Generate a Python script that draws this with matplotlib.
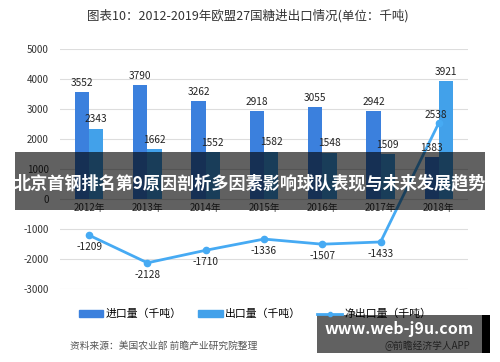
import matplotlib
matplotlib.use('Agg')
import matplotlib.pyplot as plt
import numpy as np
from matplotlib.patches import Rectangle, Patch
from matplotlib.lines import Line2D

plt.rcParams['font.family'] = ['Noto Sans CJK SC', 'DejaVu Sans']

# 数据
years = ['2012年', '2013年', '2014年', '2015年', '2016年', '2017年', '2018年']
imports = [3552, 3790, 3262, 2918, 3055, 2942, 1383]
exports = [2343, 1662, 1552, 1582, 1548, 1509, 3921]
net_exports = [-1209, -2128, -1710, -1336, -1507, -1433, 2538]
yticks = [5000, 4000, 3000, 2000, 1000, 0, -1000, -2000, -3000]

c_imp = '#3b80dd'
c_exp = '#42a1ea'
c_net = '#46aaf3'

fig = plt.figure(figsize=(5, 3.62), dpi=100)
ax = fig.add_axes([0.12, 0.2017, 0.816, 0.663])

x = np.arange(len(years))
w = 0.245
ax.bar(x - w / 2, imports, w, color=c_imp, zorder=2)
ax.bar(x + w / 2, exports, w, color=c_exp, zorder=2)
ax.plot(x, net_exports, color=c_net, lw=2, marker='o', ms=4.5, zorder=3)

for i in range(len(years)):
    ax.text(x[i] - w / 2, imports[i] + 140, str(imports[i]), ha='center', va='bottom', fontsize=7.3, color='#222222')
    ax.text(x[i] + w / 2, exports[i] + 140, str(exports[i]), ha='center', va='bottom', fontsize=7.3, color='#222222')
    if net_exports[i] < 0:
        ax.text(x[i], net_exports[i] - 230, str(net_exports[i]), ha='center', va='top', fontsize=7.3, color='#222222')
    else:
        ax.text(x[i] - 0.05, net_exports[i] + 80, str(net_exports[i]), ha='center', va='bottom', fontsize=7.3, color='#222222')

# x轴标签放在0线下方
for i, yr in enumerate(years):
    ax.text(x[i], -120, yr, ha='center', va='top', fontsize=7, color='#333333')

ax.set_xlim(-0.5, len(years) - 0.5)
ax.set_ylim(-3000, 5000)
ax.set_yticks(yticks)
ax.set_yticklabels([str(v) for v in yticks], fontsize=7, color='#333333')
ax.set_xticks([])
ax.grid(axis='y', color='#dddddd', lw=0.8, zorder=0)
ax.tick_params(axis='y', length=0, pad=8)
for s in ax.spines.values():
    s.set_visible(False)

fig.text(0.496, 0.957, '图表10：2012-2019年欧盟27国糖进出口情况(单位：千吨)', ha='center', va='center',
         fontsize=9, color='#333333')

handles = [Patch(color=c_imp), Patch(color=c_exp),
           Line2D([0], [0], color=c_net, lw=2, marker='o', ms=3)]
fig.legend(handles, ['进口量（千吨）', '出口量（千吨）', '净出口量（千吨）'], loc='center',
           bbox_to_anchor=(0.51, 0.132), ncol=3, frameon=False, fontsize=7.8,
           handlelength=2.3, handleheight=0.5, columnspacing=1.5, handletextpad=0.2)

fig.text(0.14, 0.045, '资料来源：美国农业部 前瞻产业研究院整理', fontsize=7, color='#555555',
         style='italic', va='center')

# 覆盖的横幅
fig.patches.append(Rectangle((0.03, 1 - 210 / 362), 0.94, 58 / 362, transform=fig.transFigure,
                             facecolor='black', alpha=0.62, zorder=5))
fig.text(0.5, 1 - 183 / 362, '北京首钢排名第9原因剖析多因素影响球队表现与未来发展趋势', ha='center', va='center',
         fontsize=12.3, color='white', fontweight='bold', zorder=6)

fig.text(0.94, 0.045, '@前瞻经济学人APP', ha='right', va='center', fontsize=7, color='#555555')
fig.patches.append(Rectangle((317 / 500, 1 - 353 / 362), 165 / 500, 38 / 362, transform=fig.transFigure,
                             facecolor='black', alpha=0.62, zorder=5))
fig.patches.append(Rectangle((482 / 500, 1 - 353 / 362), 8 / 500, 38 / 362, transform=fig.transFigure,
                             facecolor='black', zorder=5))
fig.text(399 / 500, 1 - 329 / 362, 'www.web-j9u.com', ha='center', va='center', fontsize=11.5,
         color='white', fontweight='bold', zorder=6)

fig.savefig('out.png', dpi=100)
